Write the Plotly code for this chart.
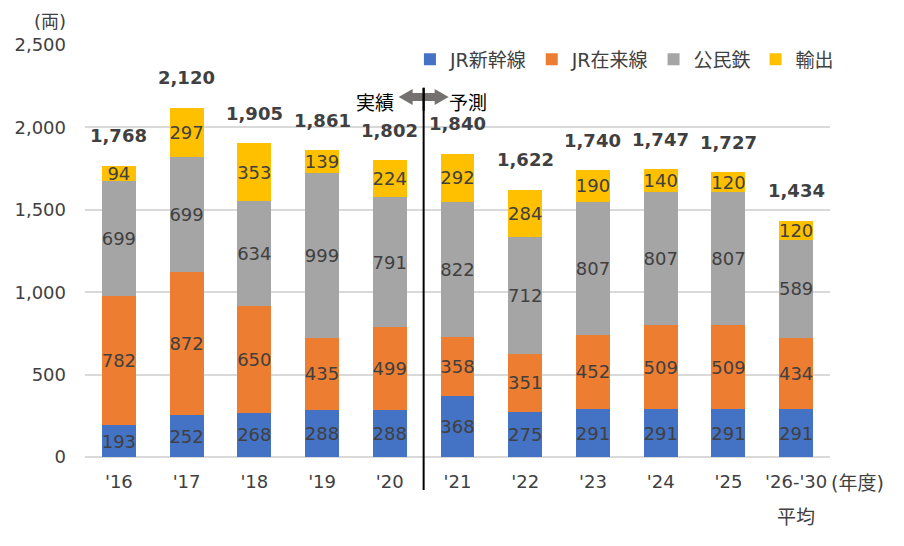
import plotly.graph_objects as go

categories = ["'16", "'17", "'18", "'19", "'20", "'21", "'22", "'23", "'24", "'25", "'26-'30"]
shinkansen = [193, 252, 268, 288, 288, 368, 275, 291, 291, 291, 291]
zairaisen = [782, 872, 650, 435, 499, 358, 351, 452, 509, 509, 434]
minka = [699, 699, 634, 999, 791, 822, 712, 807, 807, 807, 589]
export = [94, 297, 353, 139, 224, 292, 284, 190, 140, 120, 120]
totals = [a + b + c + d for a, b, c, d in zip(shinkansen, zairaisen, minka, export)]
y_ticks = [0, 500, 1000, 1500, 2000, 2500]

FONT = "DejaVu Sans, Noto Sans CJK JP"
TXT = "#404040"

series = [
    ("JR新幹線", shinkansen, "#4472C4"),
    ("JR在来線", zairaisen, "#ED7D31"),
    ("公民鉄", minka, "#A5A5A5"),
    ("輸出", export, "#FFC000"),
]

fig = go.Figure()
for name, vals, col in series:
    fig.add_trace(go.Bar(
        x=categories, y=vals, name=name, marker=dict(color=col, line=dict(width=0)),
        text=vals, textposition="inside", insidetextanchor="middle", textangle=0,
        textfont=dict(family=FONT, size=18, color=TXT), constraintext="none",
        cliponaxis=False,
    ))

for c, t in zip(categories, totals):
    fig.add_annotation(x=c, y=t, text=f"<b>{t:,}</b>", showarrow=False,
                       yanchor="middle", yshift=30,
                       font=dict(family=FONT, size=18, color=TXT))

# divider between actual and forecast
fig.add_shape(type="line", xref="x", yref="paper", x0=4.5, x1=4.5, y0=-0.08, y1=0.896,
              line=dict(color="black", width=2))
# double-headed block arrow (pixel-sized, anchored on the divider)
fig.add_shape(type="path", xref="x", yref="paper", xsizemode="pixel", ysizemode="pixel",
              xanchor=4.5, yanchor=0.874,
              path="M -25,0 L -11,-8 L -11,-4 L 11,-4 L 11,-8 L 25,0 L 11,8 L 11,4 L -11,4 L -11,8 Z",
              fillcolor="#767171", line=dict(width=0), layer="below")
fig.add_shape(type="line", xref="x", yref="paper", x0=4.5, x1=4.5, y0=0.84, y1=0.896,
              line=dict(color="black", width=2))
fig.add_annotation(xref="x", yref="paper", x=4.5, y=0.874, xshift=-28, yshift=7, xanchor="right",
                   text="実績", showarrow=False, font=dict(family=FONT, size=19, color="#000000"))
fig.add_annotation(xref="x", yref="paper", x=4.5, y=0.874, xshift=23, yshift=7, xanchor="left",
                   text="予測", showarrow=False, font=dict(family=FONT, size=19, color="#000000"))

fig.add_annotation(xref="paper", yref="paper", x=-0.047, y=1.058, text="(両)", showarrow=False,
                   xanchor="center", yanchor="middle", font=dict(family=FONT, size=18, color=TXT))
fig.add_annotation(xref="paper", yref="paper", x=1.037, y=-0.063, text="(年度)", showarrow=False,
                   xanchor="center", yanchor="middle", font=dict(family=FONT, size=19, color=TXT))
fig.add_annotation(xref="x", yref="paper", x=categories[-1], y=-0.145, text="平均", showarrow=False,
                   xanchor="center", yanchor="middle", font=dict(family=FONT, size=19, color=TXT))

# page body adds an 8px offset; size the figure so the plot lands where the reference has it
fig.update_layout(
    width=896, height=538,
    margin=dict(l=77, r=74, t=37, b=89, autoexpand=False),
    barmode="stack", bargap=0.5,
    plot_bgcolor="white", paper_bgcolor="white",
    font=dict(family=FONT, size=18, color=TXT),
    uniformtext=dict(minsize=18, mode="show"),
    legend=dict(orientation="h", x=1.012, xanchor="right", y=0.965, yanchor="middle",
                font=dict(family=FONT, size=19, color=TXT), itemwidth=30,
                traceorder="normal", bgcolor="rgba(0,0,0,0)"),
    showlegend=True,
)
fig.update_xaxes(showgrid=False, showline=False, ticks="", ticklabelstandoff=12,
                 tickfont=dict(family=FONT, size=18, color=TXT))
fig.update_yaxes(range=[0, 2500], tickvals=y_ticks, tickformat=",", showgrid=True,
                 gridcolor="#D9D9D9", gridwidth=1.5, zeroline=True, zerolinecolor="#D9D9D9",
                 zerolinewidth=1.5, showline=False, ticklabelstandoff=18,
                 tickfont=dict(family=FONT, size=18, color=TXT))

fig.write_html("out.html")
